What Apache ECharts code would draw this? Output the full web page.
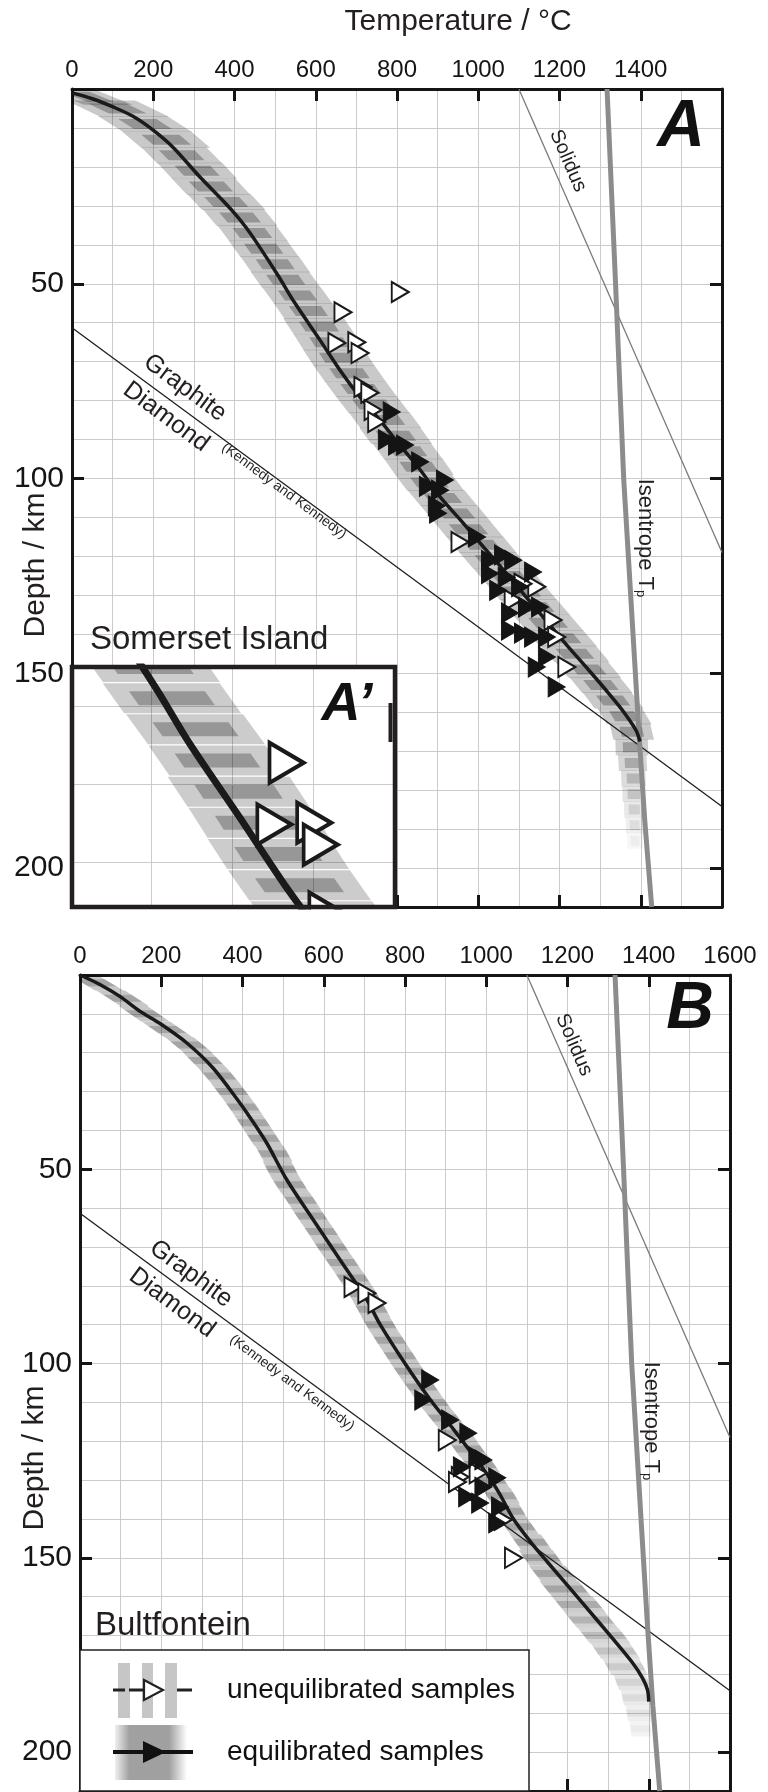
<!DOCTYPE html>
<html>
<head>
<meta charset="utf-8">
<script src="https://cdn.jsdelivr.net/npm/echarts@6/dist/echarts.min.js"></script>
<style>html,body{margin:0;padding:0;background:#fff}#c{width:768px;height:1792px}</style>
</head>
<body>
<div id="c"></div>
<script>
const FONT = "'Liberation Sans', Arial, Helvetica, sans-serif";

// ---- tick labels ----
const tempLabelsA = [0, 200, 400, 600, 800, 1000, 1200, 1400];
const tempLabelsB = [0, 200, 400, 600, 800, 1000, 1200, 1400, 1600];
const depthLabels = [50, 100, 150, 200];
const insetGridT = [500, 600, 700];
const insetGridD = [50, 60, 70];

// ---- reference lines [T degC, depth km] ----
const isentrope = [[1317, 0], [1338, 50], [1358, 100], [1381, 140], [1396, 166], [1410, 188], [1427, 210]];
const solidus = [[1100, 0], [1600, 119]];
const graphiteDiamond = [[0, 61.3], [1600, 184.2]];

// ---- Panel A (Somerset Island) ----
const geothermA = [[0, 1], [50, 2.5], [101, 4.6], [150, 7], [199, 10.5], [249, 15], [315, 22.6], [370, 28.5], [405, 32.5], [428, 35.5], [455, 39.5], [508, 48], [547, 54.7], [610, 64.4], [665, 73], [708, 79], [758, 85], [800, 90.5], [855, 97.5], [906, 104.7], [955, 110.5], [1004, 116.5], [1054, 122.5], [1103, 128.6], [1152, 134.6], [1201, 140.7], [1245, 146], [1283, 150.5], [1320, 155], [1349, 158.7], [1372, 162], [1390, 165], [1398, 167.5]];
// envelope bands [T centre, depth, half-width degC]
const bandA = [[40, 2, 60], [112, 5, 85], [180, 9, 85], [232, 13, 85], [270, 17, 80], [308, 21, 80], [342, 25, 78], [380, 29, 78], [414, 33, 75], [444, 37, 72], [472, 41, 72], [500, 45, 72], [526, 49, 72], [555, 53, 72], [582, 57, 72], [608, 61, 75], [633, 65, 75], [657, 69, 75], [683, 73, 75], [711, 77, 75], [740, 81, 75], [770, 85, 75], [797, 89, 75], [826, 93, 72], [854, 97, 72], [880, 101, 70], [912, 105, 70], [944, 109, 70], [976, 113, 70], [1008, 117, 70], [1040, 121, 70], [1074, 125, 70], [1106, 129, 70], [1139, 133, 70], [1172, 137, 70], [1205, 141, 70], [1238, 145, 68], [1270, 149, 65], [1302, 153, 62], [1332, 157, 60], [1360, 161, 55], [1378, 165, 50], [1378, 169, 40], [1380, 173, 35], [1382, 177, 30], [1383, 181, 28], [1384, 185, 25], [1385, 189, 22], [1386, 193, 20]];
const openA = [[808, 52.1], [667, 57.3], [652, 65.2], [701, 65], [709, 67.8], [716, 76.5], [733, 78], [741, 82.4], [750, 85.5], [955, 116.3], [1144, 127.8], [1110, 127], [1086, 131.2], [1184, 136.3], [1193, 140.7], [1218, 148.4]];
const filledA = [[787, 82.9], [775, 90], [800, 91.4], [820, 91.4], [857, 95.7], [918, 100.4], [876, 102], [906, 103], [898, 107], [901, 108.9], [997, 115], [1029, 121], [1061, 119.6], [1086, 121], [1135, 124], [1029, 124.4], [1070, 125.4], [1103, 127.8], [1049, 128.7], [1078, 134.5], [1120, 133], [1152, 133], [1078, 138.9], [1110, 139.7], [1135, 140.7], [1169, 140.7], [1144, 148.4], [1169, 145.8], [1193, 153.5]];

// ---- Panel B (Bultfontein) ----
const geothermB = [[0, 0], [50, 2.5], [98, 5.5], [150, 9.5], [197, 12.5], [263, 17.5], [328, 24], [394, 33], [411, 35.5], [460, 43.3], [509, 52.7], [574, 63], [640, 73.3], [706, 83.6], [739, 90], [800, 100], [860, 109], [920, 117], [985, 126], [1030, 133], [1067, 140], [1110, 146], [1150, 151], [1232, 161], [1313, 171], [1360, 177], [1385, 181], [1397, 184], [1400, 187]];
const bandB = [[40, 2, 35], [105, 6, 35], [158, 10, 35], [215, 14, 35], [268, 18, 35], [308, 22, 35], [343, 26, 35], [373, 30, 35], [401, 34, 35], [427, 38, 35], [452, 42, 35], [477, 46, 35], [495, 50, 35], [517, 54, 35], [543, 58, 35], [568, 62, 35], [594, 66, 35], [619, 70, 35], [645, 74, 35], [671, 78, 35], [696, 82, 35], [718, 86, 35], [739, 90, 35], [763, 94, 35], [788, 98, 35], [813, 102, 35], [840, 106, 35], [867, 110, 35], [897, 114, 35], [928, 118, 35], [956, 122, 35], [985, 126, 35], [1010, 130, 35], [1036, 134, 35], [1056, 138, 35], [1081, 142, 35], [1110, 146, 38], [1135, 150, 42], [1165, 154, 45], [1195, 158, 48], [1228, 162, 50], [1258, 166, 50], [1290, 170, 50], [1318, 174, 48], [1342, 178, 45], [1360, 182, 40], [1370, 186, 35], [1376, 190, 30], [1380, 194, 25]];
const openB = [[672, 80.3], [706, 81.9], [731, 84.4], [904, 119.7], [936, 129.2], [929, 130.5], [980, 128.2], [1042, 140.2], [1067, 150]];
const filledB = [[862, 104.2], [845, 109.4], [911, 114.5], [956, 117.9], [940, 126.6], [978, 124], [993, 124.8], [1027, 129.4], [993, 131.8], [953, 134.3], [985, 135.9], [1034, 136.9], [1027, 141]];

// inset A' view window (2x magnification)
const INSET_T = [403, 800.5];
const INSET_D = [45, 75.8];

// ---------------- helpers ----------------
function bandSeries(arr, xIdx, yIdx, o) {
  return {
    type: 'custom', xAxisIndex: xIdx, yAxisIndex: yIdx, clip: true, silent: true, z: o.z,
    encode: { x: 0, y: 1 },
    data: arr,
    renderItem: function (params, api) {
      const i = params.dataIndex;
      const c = api.coord([arr[i][0], arr[i][1]]);
      const a = arr[Math.max(0, i - 1)], b = arr[Math.min(arr.length - 1, i + 1)];
      const pa = api.coord([a[0], a[1]]), pb = api.coord([b[0], b[1]]);
      const dy = pb[1] - pa[1];
      const k = dy !== 0 ? (pb[0] - pa[0]) / dy : 0;
      const w = api.size([arr[i][2], 0])[0];
      const D = arr[i][1];
      const fade = D > o.fadeStart ? Math.max(0.12, 1 - (D - o.fadeStart) / o.fadeLen) : 1;
      const poly = function (hw, h) {
        return [[c[0] - hw - k * h / 2, c[1] - h / 2], [c[0] + hw - k * h / 2, c[1] - h / 2],
                [c[0] + hw + k * h / 2, c[1] + h / 2], [c[0] - hw + k * h / 2, c[1] + h / 2]];
      };
      return { type: 'group', children: [
        { type: 'polygon', shape: { points: poly(w, o.h1) }, style: { fill: 'rgba(0,0,0,' + (o.a1 * fade) + ')' } },
        { type: 'polygon', shape: { points: poly(w * o.r2, o.h2) }, style: { fill: 'rgba(0,0,0,' + (o.a2 * fade) + ')' } }
      ] };
    }
  };
}
function lineS(data, xIdx, yIdx, color, width, z, extra) {
  return Object.assign({ type: 'line', data: data, xAxisIndex: xIdx, yAxisIndex: yIdx, showSymbol: false, symbol: 'none',
    silent: true, z: z, lineStyle: { color: color, width: width }, animation: false }, extra || {});
}
function scatterS(data, xIdx, yIdx, open, size, bw, z, clip) {
  return { type: 'scatter', data: data, xAxisIndex: xIdx, yAxisIndex: yIdx, symbol: 'triangle', symbolRotate: -90,
    symbolSize: size, silent: true, z: z, clip: clip !== false,
    itemStyle: open ? { color: '#ffffff', borderColor: '#1a1a1a', borderWidth: bw, opacity: 1 }
                    : { color: '#141414', borderColor: '#141414', borderWidth: 1, opacity: 1 } };
}
function mainX(grid, pos, labels) {
  return { gridIndex: grid, type: 'value', position: pos, min: 0, max: 1600, interval: 200, z: 1,
    axisLine: { onZero: false, lineStyle: { color: '#151515', width: 3 } },
    axisTick: { inside: true, length: 12, lineStyle: { color: '#151515', width: 3 } },
    axisLabel: labels ? { show: true, fontSize: 24, margin: 7, color: '#151515', fontFamily: FONT,
      formatter: function (v) { return labels.indexOf(v) >= 0 ? String(v) : ''; } } : { show: false },
    splitLine: { show: false } };
}
function gridX(grid) {
  return { gridIndex: grid, type: 'value', position: 'bottom', min: 0, max: 1600, interval: 100, z: 0,
    axisLine: { show: false, onZero: false }, axisTick: { show: false }, axisLabel: { show: false },
    splitLine: { show: true, lineStyle: { color: '#cbcbcb', width: 1 } } };
}
function mainY(grid, pos, labels) {
  return { gridIndex: grid, type: 'value', position: pos, inverse: true, min: 0, max: 210, interval: 50, z: 1,
    axisLine: { onZero: false, lineStyle: { color: '#151515', width: 3 } },
    axisTick: { inside: true, length: 12, lineStyle: { color: '#151515', width: 3 } },
    axisLabel: labels ? { show: true, fontSize: 30, margin: 8, color: '#151515', fontFamily: FONT,
      formatter: function (v) { return labels.indexOf(v) >= 0 ? String(v) : ''; } } : { show: false },
    splitLine: { show: false } };
}
function gridY(grid) {
  return { gridIndex: grid, type: 'value', position: 'left', inverse: true, min: 0, max: 210, interval: 10, z: 0,
    axisLine: { show: false, onZero: false }, axisTick: { show: false }, axisLabel: { show: false },
    splitLine: { show: true, lineStyle: { color: '#cbcbcb', width: 1 } } };
}
function txt(x, y, text, size, rot, extra) {
  return { type: 'text', x: x, y: y, rotation: rot || 0, z: 100, silent: true,
    style: Object.assign({ text: text, fontSize: size, fontFamily: FONT, fill: '#231f20', align: 'center', verticalAlign: 'middle' }, extra || {}) };
}

const GD_ROT = -36.4 * Math.PI / 180;
const SOL_ROT = -66.5 * Math.PI / 180;
const isenRich = { a: { fontSize: 22, fontFamily: FONT, fill: '#231f20' }, b: { fontSize: 13, fontFamily: FONT, fill: '#231f20', verticalAlign: 'bottom', lineHeight: 12 } };

const bandOptsMain = { h1: 16, a1: 0.21, r2: 0.55, h2: 10, a2: 0.26, fadeStart: 166, fadeLen: 32, z: 2 };
const bandOptsInset = { h1: 30, a1: 0.2, r2: 0.65, h2: 14, a2: 0.26, fadeStart: 166, fadeLen: 32, z: 7 };
const bandOptsB = { h1: 15.5, a1: 0.22, r2: 1.0, h2: 7, a2: 0.17, fadeStart: 158, fadeLen: 45, z: 2 };

// unequilibrated samples that fall in the inset window
const openInset = openA.filter(function (p) { return p[0] <= INSET_T[1] && p[1] <= INSET_D[1] + 1; });

const option = {
  animation: false,
  backgroundColor: '#ffffff',
  grid: [
    { left: 72, top: 89, width: 650, height: 818, z: 0 },
    { left: 72, top: 667, width: 323, height: 240, show: true, backgroundColor: '#ffffff', borderWidth: 0, z: 5 },
    { left: 80, top: 975, width: 650, height: 816, z: 0 }
  ],
  xAxis: [
    mainX(0, 'top', tempLabelsA), mainX(0, 'bottom', null), gridX(0),
    { gridIndex: 1, type: 'value', min: INSET_T[0], max: INSET_T[1], show: false, axisLine: { onZero: false } },
    mainX(2, 'top', tempLabelsB), mainX(2, 'bottom', null), gridX(2)
  ],
  yAxis: [
    mainY(0, 'left', depthLabels), mainY(0, 'right', null), gridY(0),
    { gridIndex: 1, type: 'value', inverse: true, min: INSET_D[0], max: INSET_D[1], show: false, axisLine: { onZero: false } },
    mainY(2, 'left', depthLabels), mainY(2, 'right', null), gridY(2)
  ],
  series: [
    // ---- panel A ----
    bandSeries(bandA, 0, 0, bandOptsMain),
    lineS(solidus, 0, 0, '#7a7a7a', 1.3, 3),
    lineS(graphiteDiamond, 0, 0, '#1e1e1e', 1.3, 3),
    lineS(isentrope, 0, 0, '#8c8c8c', 5, 3),
    lineS(geothermA, 0, 0, '#1a1a1a', 3.5, 3, { smooth: 0.3 }),
    scatterS(openA, 0, 0, true, [20, 17], 2, 4),
    scatterS(filledA, 0, 0, false, [20, 17], 1, 4),
    // ---- inset A' ----
    bandSeries(bandA, 3, 3, bandOptsInset),
    lineS(geothermA, 3, 3, '#1a1a1a', 7, 8, { smooth: 0.3,
      markLine: { silent: true, z: 6, symbol: ['none', 'none'], animation: false, label: { show: false },
        lineStyle: { color: '#cbcbcb', width: 1, type: 'solid' },
        data: insetGridT.map(function (t) { return { xAxis: t }; }).concat(insetGridD.map(function (d) { return { yAxis: d }; })) } }),
    scatterS(openInset, 3, 3, true, [40, 34], 4, 9, false),
    // ---- panel B ----
    bandSeries(bandB, 4, 4, bandOptsB),
    lineS(solidus, 4, 4, '#7a7a7a', 1.3, 3),
    lineS(graphiteDiamond, 4, 4, '#1e1e1e', 1.3, 3),
    lineS(isentrope, 4, 4, '#8c8c8c', 5, 3),
    lineS(geothermB, 4, 4, '#1a1a1a', 3.5, 3, { smooth: 0.3 }),
    scatterS(openB, 4, 4, true, [20, 17], 2, 4),
    scatterS(filledB, 4, 4, false, [20, 17], 1, 4)
  ],
  graphic: [
    txt(458, 22, 'Temperature / °C', 30),
    txt(36, 565, 'Depth / km', 30, Math.PI / 2),
    txt(35, 1458, 'Depth / km', 30, Math.PI / 2),
    txt(681, 128, 'A', 66, 0, { fontWeight: 'bold', fontStyle: 'italic', fill: '#111' }),
    txt(690, 1010, 'B', 66, 0, { fontWeight: 'bold', fontStyle: 'italic', fill: '#111' }),
    txt(90, 640, 'Somerset Island', 33, 0, { align: 'left' }),
    txt(95, 1626, 'Bultfontein', 33, 0, { align: 'left' }),
    // panel A annotations
    txt(185, 388, 'Graphite', 25, GD_ROT),
    txt(166, 417, 'Diamond', 25, GD_ROT),
    txt(284, 491, '(Kennedy and Kennedy)', 14, GD_ROT),
    txt(568, 161, 'Solidus', 20, SOL_ROT),
    txt(645, 538, '{a|Isentrope T}{b|p}', 22, -Math.PI / 2, { rich: isenRich }),
    // panel B annotations
    txt(191, 1274, 'Graphite', 25, GD_ROT),
    txt(172, 1303, 'Diamond', 25, GD_ROT),
    txt(292, 1383, '(Kennedy and Kennedy)', 14, GD_ROT),
    txt(574, 1045, 'Solidus', 20, SOL_ROT),
    txt(651, 1421, '{a|Isentrope T}{b|p}', 22, -Math.PI / 2, { rich: isenRich }),
    // inset overflow cover, border and label
    { type: 'rect', z: 9.5, silent: true, shape: { x: 60, y: 909.5, width: 350, height: 28 }, style: { fill: '#ffffff' } },
    { type: 'rect', z: 10, silent: true, shape: { x: 72, y: 667, width: 323, height: 240 }, style: { fill: 'none', stroke: '#231f20', lineWidth: 4.5 } },
    { type: 'line', z: 10, silent: true, shape: { x1: 390.5, y1: 703, x2: 390.5, y2: 742 }, style: { stroke: '#231f20', lineWidth: 4 } },
    Object.assign(txt(347, 705, 'A\u2019', 54, 0, { fontWeight: 'bold', fontStyle: 'italic', fill: '#111' }), { z: 11 }),
    // legend box
    { type: 'rect', z: 60, silent: true, shape: { x: 80, y: 1650, width: 449, height: 141 }, style: { fill: '#ffffff', stroke: '#222', lineWidth: 1.5 } },
    { type: 'rect', z: 61, silent: true, shape: { x: 118, y: 1663, width: 12, height: 55 }, style: { fill: '#c6c6c6' } },
    { type: 'rect', z: 61, silent: true, shape: { x: 142, y: 1663, width: 11, height: 55 }, style: { fill: '#c6c6c6' } },
    { type: 'rect', z: 61, silent: true, shape: { x: 165, y: 1663, width: 12, height: 55 }, style: { fill: '#c6c6c6' } },
    { type: 'line', z: 62, silent: true, shape: { x1: 113, y1: 1690, x2: 125, y2: 1690 }, style: { stroke: '#222', lineWidth: 3 } },
    { type: 'line', z: 62, silent: true, shape: { x1: 129, y1: 1690, x2: 143, y2: 1690 }, style: { stroke: '#222', lineWidth: 3 } },
    { type: 'line', z: 62, silent: true, shape: { x1: 177, y1: 1690, x2: 192, y2: 1690 }, style: { stroke: '#222', lineWidth: 3 } },
    { type: 'polygon', z: 63, silent: true, shape: { points: [[144, 1680], [163, 1690], [144, 1700]] }, style: { fill: '#fff', stroke: '#222', lineWidth: 2.2 } },
    { type: 'rect', z: 61, silent: true, shape: { x: 115, y: 1725, width: 72, height: 55 },
      style: { fill: new echarts.graphic.LinearGradient(0, 0, 1, 0, [
        { offset: 0, color: 'rgba(150,150,150,0.15)' }, { offset: 0.2, color: 'rgba(150,150,150,0.9)' },
        { offset: 0.75, color: 'rgba(150,150,150,0.9)' }, { offset: 1, color: 'rgba(150,150,150,0)' }]) } },
    { type: 'line', z: 62, silent: true, shape: { x1: 113, y1: 1752, x2: 193, y2: 1752 }, style: { stroke: '#111', lineWidth: 4 } },
    { type: 'polygon', z: 63, silent: true, shape: { points: [[143, 1741], [166, 1752], [143, 1763]] }, style: { fill: '#111' } },
    Object.assign(txt(227, 1690, 'unequilibrated samples', 28, 0, { align: 'left', fill: '#111' }), { z: 64 }),
    Object.assign(txt(227, 1752, 'equilibrated samples', 28, 0, { align: 'left', fill: '#111' }), { z: 64 })
  ]
};

const chart = echarts.init(document.getElementById('c'), null, { renderer: 'canvas', width: 768, height: 1792 });
chart.setOption(option);
</script>
</body>
</html>
